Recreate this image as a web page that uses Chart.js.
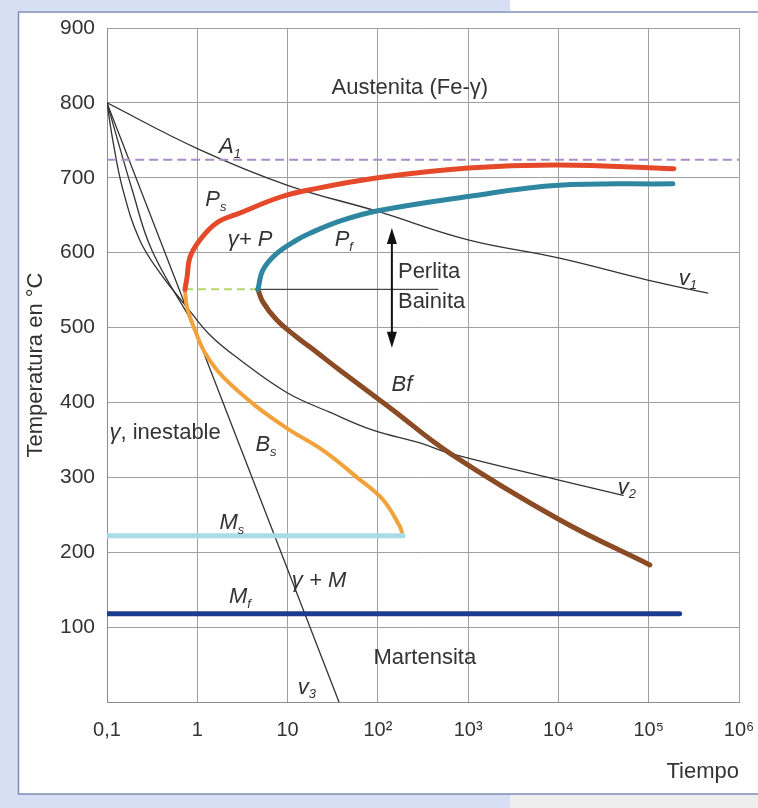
<!DOCTYPE html>
<html>
<head>
<meta charset="utf-8">
<script src="https://cdn.jsdelivr.net/npm/chart.js@4.4.0/dist/chart.umd.min.js"></script>
<style>
  html, body { margin: 0; padding: 0; background: #fff; }
  #wrap { width: 758px; height: 808px; }
  canvas { display: block; }
</style>
</head>
<body>
<div id="wrap"><canvas id="ttt" width="758" height="808"></canvas></div>
<script>
// Tiempo (log) / Temperatura (°C)
const xTicks = [0.1, 1, 10, 100, 1e3, 1e4, 1e5, 1e6];
const xTickLabels = ['0,1', '1', '10', '10²', '10³', '10⁴', '10⁵', '10⁶'];

const a1Time = [0.1, 1e6];
const a1Temp = [724, 724];

const psTime = [0.73, 0.77, 0.83, 1.07, 1.65, 2.97, 8.2, 17.7, 100, 1000, 1e4, 1.9e5];
const psTemp = [551, 567, 594, 617, 640, 653, 674, 684, 700, 713, 717, 712];

const pfTime = [4.7, 5.34, 7.6, 12.7, 17.7, 40, 100, 1000, 1e4, 1.85e5];
const pfTemp = [551, 577, 599, 617, 626, 643, 656, 675, 690, 692];

const bsTime = [0.73, 0.77, 0.94, 1.22, 1.93, 4.58, 10.6, 24.7, 58.7, 114, 176, 185];
const bsTemp = [551, 527, 497, 466, 434, 394, 363, 336, 300, 270, 234, 226];

const bfTime = [4.7, 5.34, 7.6, 12.7, 17.7, 38, 136, 630, 1.04e4, 1.03e5];
const bfTemp = [551, 534, 510, 487, 474, 443, 393, 332, 243, 183];

const msTime = [0.1, 190];
const msTemp = [222, 222];
const mfTime = [0.1, 2.2e5];
const mfTemp = [118, 118];

const noseTime = [0.73, 4.7];      // green dashed between the noses
const noseTemp = [551, 551];
const splitTime = [4.7, 462];      // perlita / bainita divider
const splitTemp = [551, 551];

const v1Time = [0.1, 1, 10, 100, 1000, 1e4, 1e5, 4.5e5];
const v1Temp = [800, 739, 690, 655, 617, 593, 563, 546];
const v2Time = [0.1, 0.116, 0.15, 0.23, 0.386, 0.77, 1.38, 2.96, 9.9, 29.3, 88, 292, 630, 1.04e4, 5.2e4];
const v2Temp = [800, 750, 684, 617, 573, 527, 490, 457, 413, 387, 363, 346, 332, 296, 276];
const v3Time = [0.1, 37.1];
const v3Temp = [800, 0];
const vcTime = [0.1, 0.19, 0.315, 0.89];
const vcTemp = [800, 684, 603, 506];

const arrowTime = 143;
const arrowTemp = [633, 473];

const FONT = "'Liberation Sans', Arial, sans-serif";

function pts(xs, ys) {
  return xs.map((x, i) => ({ x: x, y: ys[i] }));
}

function curve(xs, ys, color, width, extra) {
  return Object.assign({
    data: pts(xs, ys),
    borderColor: color,
    borderWidth: width,
    pointRadius: 0,
    fill: false,
    tension: 0.4,
    borderCapStyle: 'round',
    borderJoinStyle: 'round'
  }, extra || {});
}

// text labels: parts are [text, style] with n = normal, i = italic, s = subscript
const labels = [
  { parts: [['Austenita (Fe-γ)', 'n']], t: 226, T: 820 },
  { parts: [['A', 'i'], ['1', 's']], t: 2.3, T: 741 },
  { parts: [['P', 'i'], ['s', 's']], t: 1.61, T: 670 },
  { parts: [['γ+ P', 'i']], t: 3.84, T: 617 },
  { parts: [['P', 'i'], ['f', 's']], t: 42, T: 617 },
  { parts: [['Perlita', 'n']], t: 167, T: 574, align: 'left' },
  { parts: [['Bainita', 'n']], t: 167, T: 534, align: 'left' },
  { parts: [['v', 'i'], ['1', 's']], t: 2.72e5, T: 565 },
  { parts: [['Bf', 'i']], t: 185, T: 423 },
  { parts: [['γ', 'i'], [', inestable', 'n']], t: 0.44, T: 359 },
  { parts: [['B', 'i'], ['s', 's']], t: 5.77, T: 343 },
  { parts: [['v', 'i'], ['2', 's']], t: 5.74e4, T: 286 },
  { parts: [['M', 'i'], ['s', 's']], t: 2.42, T: 239 },
  { parts: [['γ + M', 'i']], t: 22.3, T: 162 },
  { parts: [['M', 'i'], ['f', 's']], t: 2.97, T: 140 },
  { parts: [['Martensita', 'n']], t: 331, T: 59 },
  { parts: [['v', 'i'], ['3', 's']], t: 16.4, T: 19 }
];

function partFont(style) {
  if (style === 'i') return 'italic 22px ' + FONT;
  if (style === 's') return 'italic 13px ' + FONT;
  return '22px ' + FONT;
}

const framePlugin = {
  id: 'frame',
  beforeDraw(chart) {
    const ctx = chart.ctx;
    ctx.save();
    ctx.fillStyle = '#ffffff';
    ctx.fillRect(0, 0, 758, 808);
    ctx.fillStyle = '#d6dff3';
    ctx.fillRect(0, 0, 18, 808);
    ctx.fillRect(0, 0, 510, 11);
    ctx.fillRect(0, 794, 510, 14);
    ctx.fillStyle = '#eeeeee';
    ctx.fillRect(510, 794, 248, 14);
    ctx.strokeStyle = '#7f8db5';
    ctx.lineWidth = 1.5;
    ctx.beginPath();
    ctx.moveTo(760, 12);
    ctx.lineTo(18.5, 12);
    ctx.lineTo(18.5, 794);
    ctx.lineTo(760, 794);
    ctx.stroke();
    ctx.restore();
  }
};

const annotatePlugin = {
  id: 'annotate',
  afterDatasetsDraw(chart) {
    const ctx = chart.ctx;
    const xs = chart.scales.x, ys = chart.scales.y;

    // double arrow perlita / bainita
    const ax = xs.getPixelForValue(arrowTime);
    const aTop = ys.getPixelForValue(arrowTemp[0]);
    const aBot = ys.getPixelForValue(arrowTemp[1]);
    ctx.save();
    ctx.strokeStyle = '#111';
    ctx.fillStyle = '#111';
    ctx.lineWidth = 2;
    ctx.beginPath();
    ctx.moveTo(ax, aTop + 10);
    ctx.lineTo(ax, aBot - 10);
    ctx.stroke();
    ctx.beginPath();
    ctx.moveTo(ax, aTop);
    ctx.lineTo(ax - 5, aTop + 16);
    ctx.lineTo(ax + 5, aTop + 16);
    ctx.closePath();
    ctx.fill();
    ctx.beginPath();
    ctx.moveTo(ax, aBot);
    ctx.lineTo(ax - 5, aBot - 16);
    ctx.lineTo(ax + 5, aBot - 16);
    ctx.closePath();
    ctx.fill();

    // text labels
    ctx.fillStyle = '#333';
    ctx.textBaseline = 'middle';
    ctx.textAlign = 'left';
    labels.forEach(lb => {
      let w = 0;
      lb.parts.forEach(p => {
        ctx.font = partFont(p[1]);
        w += ctx.measureText(p[0]).width;
      });
      let x = xs.getPixelForValue(lb.t);
      const y = ys.getPixelForValue(lb.T);
      if (lb.align !== 'left') x -= w / 2;
      lb.parts.forEach(p => {
        ctx.font = partFont(p[1]);
        ctx.fillText(p[0], x, p[1] === 's' ? y + 7 : y);
        x += ctx.measureText(p[0]).width;
      });
    });
    ctx.restore();
  }
};

new Chart(document.getElementById('ttt'), {
  type: 'line',
  data: {
    datasets: [
      curve(mfTime, mfTemp, '#1d3c8f', 5),
      curve(msTime, msTemp, '#a9dbe6', 5),
      curve(psTime, psTemp, '#e5492a', 5),
      curve(pfTime, pfTemp, '#2e86a0', 5),
      curve(bsTime, bsTemp, '#f2a23a', 4),
      curve(bfTime, bfTemp, '#8a4b25', 5),
      curve(a1Time, a1Temp, '#a88dc8', 2, { borderDash: [9, 5], borderCapStyle: 'butt' }),
      curve(noseTime, noseTemp, '#b9d66e', 2, { borderDash: [8, 5], borderCapStyle: 'butt' }),
      curve(splitTime, splitTemp, '#444', 1.3),
      curve(v1Time, v1Temp, '#333', 1.3),
      curve(v2Time, v2Temp, '#333', 1.3),
      curve(v3Time, v3Temp, '#333', 1.3),
      curve(vcTime, vcTemp, '#333', 1.3)
    ]
  },
  options: {
    responsive: false,
    animation: false,
    devicePixelRatio: 1,
    layout: { padding: { left: 0, right: 19, top: 28, bottom: 0 } },
    plugins: {
      legend: { display: false },
      tooltip: { enabled: false }
    },
    scales: {
      x: {
        type: 'logarithmic',
        min: 0.1,
        max: 1e6,
        afterBuildTicks: s => { s.ticks = xTicks.map(v => ({ value: v })); },
        afterFit: s => { s.height = 106; s.paddingLeft = 0; s.paddingRight = 0; },
        grid: { color: '#a0a0a0', lineWidth: 1, drawTicks: false },
        border: { color: '#8c8c8c' },
        ticks: {
          autoSkip: false,
          maxRotation: 0,
          padding: 16,
          color: '#333',
          font: { family: FONT, size: 20 },
          callback: (v, i) => xTickLabels[i]
        },
        title: {
          display: true,
          text: 'Tiempo',
          align: 'end',
          color: '#333',
          font: { family: FONT, size: 22 },
          padding: { top: 0, bottom: 23 }
        }
      },
      y: {
        min: 0,
        max: 900,
        afterFit: s => { s.width = 107; },
        grid: { color: '#a0a0a0', lineWidth: 1, drawTicks: false },
        border: { color: '#8c8c8c' },
        ticks: {
          stepSize: 100,
          padding: 12,
          color: '#333',
          font: { family: FONT, size: 21 },
          callback: v => (v === 0 ? '' : v)
        },
        title: {
          display: true,
          text: 'Temperatura en °C',
          color: '#333',
          font: { family: FONT, size: 22 },
          padding: { top: 23, bottom: 0 }
        }
      }
    }
  },
  plugins: [framePlugin, annotatePlugin]
});
</script>
</body>
</html>
